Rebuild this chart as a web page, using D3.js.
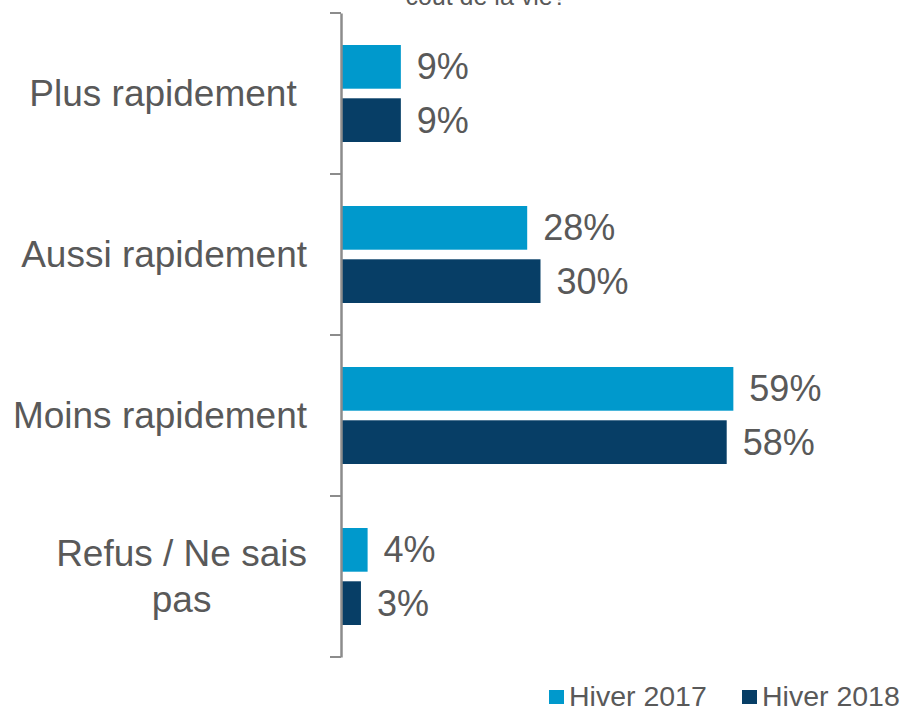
<!DOCTYPE html>
<html>
<head>
<meta charset="utf-8">
<script src="https://cdn.jsdelivr.net/npm/d3@7"></script>
<style>
  body { margin: 0; background: #fff; }
  text { font-family: "Liberation Sans", Arial, sans-serif; fill: #595959; }
</style>
</head>
<body>
<script>
// chart data
var categories = ["Plus rapidement", "Aussi rapidement", "Moins rapidement", "Refus / Ne sais pas"];
var categoryLines = [["Plus rapidement "], ["Aussi rapidement"], ["Moins rapidement"], ["Refus / Ne sais", "pas"]];
var series = ["Hiver 2017", "Hiver 2018"];
var hiver2017 = [9, 28, 59, 4];
var hiver2018 = [9, 30, 58, 3];
var titleTail = "coût de la vie?";

var colors = ["#0099CC", "#073E66"];
var values = [hiver2017, hiver2018];

var width = 907, height = 709;
var axisX = 341, labelRight = 307;

let svg = d3.select("body").append("svg")
    .attr("width", width)
    .attr("height", height);

// title is cut off by the top edge, only its last line shows
svg.append("text")
    .attr("x", 486)
    .attr("y", 5)
    .attr("text-anchor", "middle")
    .attr("font-size", "25px")
    .text(titleTail);

// scales
let yScale = d3.scaleBand()
    .domain(categories)
    .range([13, 657]);

let inner = d3.scaleBand()
    .domain(series)
    .range([32, 129])
    .paddingInner(0.18);

let xScale = d3.scaleLinear()
    .domain([0, 60])
    .range([axisX, axisX + 399]);

// bars, one group per category
let groups = svg.selectAll(".cat")
    .data(categories)
    .enter().append("g")
    .attr("class", "cat")
    .attr("transform", function (d) { return "translate(0," + yScale(d) + ")"; });

series.forEach(function (s, si) {
    groups.append("rect")
        .attr("x", xScale(0))
        .attr("y", inner(s))
        .attr("width", function (d, i) { return xScale(values[si][i]) - xScale(0); })
        .attr("height", inner.bandwidth())
        .style("fill", colors[si]);

    groups.append("text")
        .attr("x", function (d, i) { return xScale(values[si][i]) + 16; })
        .attr("y", inner(s) + inner.bandwidth() / 2)
        .attr("dy", ".35em")
        .attr("font-size", "36px")
        .text(function (d, i) { return values[si][i] + "%"; });
});

// y axis with ticks between categories
let yAxis = d3.axisLeft(yScale)
    .tickValues([])
    .tickSizeOuter(0);
let axisG = svg.append("g")
    .attr("transform", "translate(" + axisX + ",0)")
    .call(yAxis);
axisG.select(".domain").attr("stroke", "#8C8C8C").attr("stroke-width", 2.5);

let boundaries = categories.map(function (c) { return yScale(c); }).concat([yScale.range()[1]]);
axisG.selectAll(".sep")
    .data(boundaries)
    .enter().append("line")
    .attr("x1", -11)
    .attr("x2", 0)
    .attr("y1", function (d) { return d; })
    .attr("y2", function (d) { return d; })
    .attr("stroke", "#8C8C8C")
    .attr("stroke-width", 2);

// category labels, multi-line ones are centred on their widest line
groups.each(function (d, i) {
    let lines = categoryLines[i];
    let g = d3.select(this);
    let cy = yScale.bandwidth() / 2;
    let lh = 46;
    let t = g.append("text")
        .attr("font-size", "37px")
        .style("white-space", "pre");
    let spans = [];
    lines.forEach(function (l, li) {
        spans.push(t.append("tspan")
            .attr("y", cy + (li - (lines.length - 1) / 2) * lh)
            .attr("dy", ".35em")
            .text(l));
    });
    if (lines.length == 1) {
        t.attr("text-anchor", "end").selectAll("tspan").attr("x", labelRight);
    } else {
        let w = d3.max(spans, function (sp) { return sp.node().getComputedTextLength(); });
        t.attr("text-anchor", "middle").selectAll("tspan").attr("x", labelRight - w / 2);
    }
});

// legend
let legendX = [549, 742];
let legend = svg.selectAll(".legend")
    .data(series)
    .enter().append("g")
    .attr("class", "legend")
    .attr("transform", function (d, i) { return "translate(" + legendX[i] + ",690)"; });

legend.append("rect")
    .attr("width", 15)
    .attr("height", 14)
    .style("fill", function (d, i) { return colors[i]; });

legend.append("text")
    .attr("x", 20)
    .attr("y", 16)
    .attr("font-size", "28.5px")
    .text(function (d) { return d; });
</script>
</body>
</html>
